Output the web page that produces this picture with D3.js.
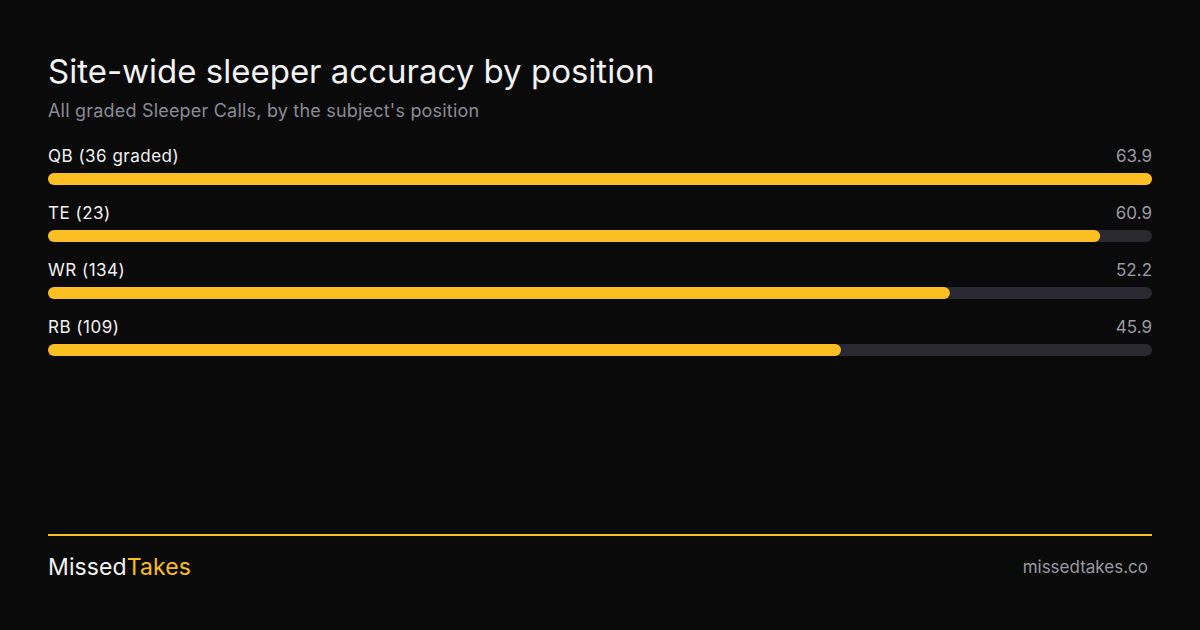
<!DOCTYPE html>
<html>
<head>
<meta charset="utf-8">
<script src="https://cdn.jsdelivr.net/npm/d3@7"></script>
<style>
  html, body { margin: 0; padding: 0; background: #0a0a0a; }
  svg { display: block; font-family: Inter, "Noto Sans", sans-serif; }
</style>
</head>
<body>
<script>
const positions = ["QB", "TE", "WR", "RB"]
const graded = ["36 graded", "23", "134", "109"]
const accuracy = [63.9, 60.9, 52.2, 45.9]

const w = 1200
const h = 630
const left = 48
const right = 1152

const svg = d3.select("body").append("svg")
    .attr("width", w)
    .attr("height", h)

svg.append("rect").attr("width", w).attr("height", h).attr("fill", "#0a0a0a")

svg.append("text")
    .attr("x", left).attr("y", 83)
    .attr("fill", "#f2f2f2")
    .attr("font-size", "33px")
    .text("Site-wide sleeper accuracy by position")

svg.append("text")
    .attr("x", left).attr("y", 117)
    .attr("fill", "#8b8b96")
    .attr("font-size", "18px")
    .attr("letter-spacing", "0.2px")
    .text("All graded Sleeper Calls, by the subject's position")

const x = d3.scaleLinear().domain([0, d3.max(accuracy)]).range([left, right])
const rows = positions.map((p, i) => ({ label: p + " (" + graded[i] + ")", value: accuracy[i] }))
const y = d3.scaleBand().domain(d3.range(rows.length)).range([143, 371])

const row = svg.selectAll("g.row")
    .data(rows)
    .enter()
    .append("g")
    .attr("class", "row")
    .attr("transform", (d, i) => "translate(0," + y(i) + ")")

row.append("text")
    .attr("x", left).attr("y", 19)
    .attr("fill", "#f2f2f2")
    .attr("font-size", "17px")
    .attr("letter-spacing", "0.5px")
    .text(d => d.label)

row.append("text")
    .attr("x", right).attr("y", 19)
    .attr("text-anchor", "end")
    .attr("fill", "#9a9aa3")
    .attr("font-size", "17px")
    .text(d => d.value.toFixed(1))

row.append("rect")
    .attr("x", left).attr("y", 30)
    .attr("width", right - left).attr("height", 12)
    .attr("rx", 6)
    .attr("fill", "#2a2830")

row.append("rect")
    .attr("x", left).attr("y", 30)
    .attr("width", d => x(d.value) - left).attr("height", 12)
    .attr("rx", 6)
    .attr("fill", "#fbbf24")

// footer
svg.append("rect")
    .attr("x", left).attr("y", 534)
    .attr("width", right - left).attr("height", 2)
    .attr("fill", "#fbbf24")

const brand = svg.append("text")
    .attr("x", left).attr("y", 575)
    .attr("font-size", "23px")
    .attr("letter-spacing", "0.1px")
brand.append("tspan").attr("fill", "#f2f2f2").text("Missed")
brand.append("tspan").attr("fill", "#fbbf24").text("Takes")

svg.append("text")
    .attr("x", 1148).attr("y", 573)
    .attr("text-anchor", "end")
    .attr("fill", "#9a9aa3")
    .attr("font-size", "17px")
    .text("missedtakes.co")
</script>
</body>
</html>
